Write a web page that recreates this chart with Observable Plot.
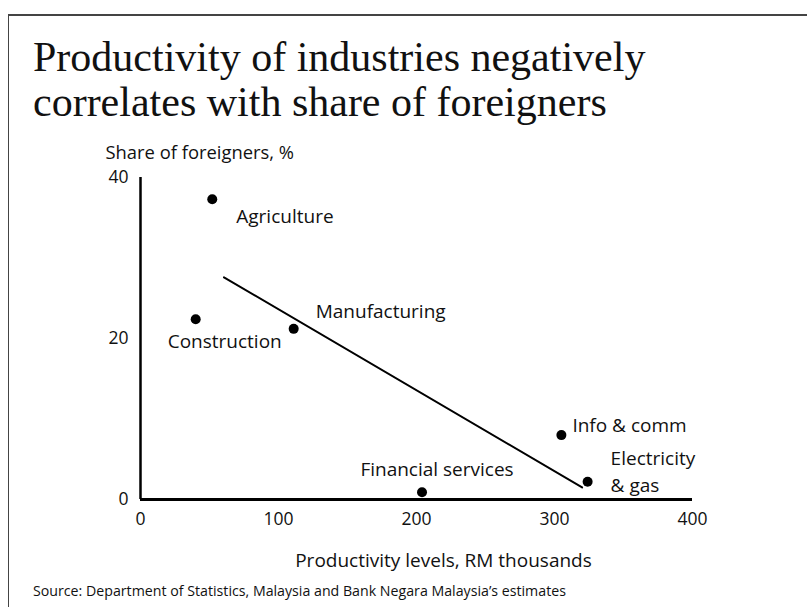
<!DOCTYPE html>
<html>
<head>
<meta charset="utf-8">
<script src="https://cdn.jsdelivr.net/npm/d3@7"></script>
<script src="https://cdn.jsdelivr.net/npm/@observablehq/plot@0.6"></script>
<style>
  html, body { margin: 0; padding: 0; background: #fff; }
  body { width: 807px; height: 607px; position: relative; overflow: hidden; }
  #frame { position: absolute; left: 8px; top: 14px; width: 799px; height: 593px;
           border-top: 2px solid #444; border-left: 1.5px solid #444; box-sizing: border-box; }
  #title { position: absolute; left: 33px; top: 35px; font-family: "Liberation Serif", serif;
           font-size: 42px; line-height: 45px; color: #111; white-space: nowrap; }
  #chart { position: absolute; left: 0; top: 140px; }
  #source { position: absolute; left: 33px; top: 581px; font-family: "Open Sans", sans-serif;
            font-size: 14.2px; line-height: 20px; color: #111; white-space: nowrap; }
</style>
</head>
<body>
<div id="frame"></div>
<div id="title">Productivity of industries negatively<br>correlates with share of foreigners</div>
<div id="chart"></div>
<div id="source">Source: Department of Statistics, Malaysia and Bank Negara Malaysia’s estimates</div>
<script>
// Data
const industries = ["Agriculture", "Construction", "Manufacturing", "Info & comm", "Electricity\n& gas", "Financial services"];
const productivity = [52, 40, 111, 305, 324, 204];       // RM thousands
const foreignShare = [37.3, 22.4, 21.2, 8.0, 2.2, 0.9];  // %
const trendX = [60.5, 320];
const trendY = [27.6, 1.5];
const xTicks = [0, 100, 200, 300, 400];
const yTicks = [0, 20, 40];
const xLabel = "Productivity levels, RM thousands";
const yLabel = "Share of foreigners, %";

const points = industries.map((name, i) => ({name, x: productivity[i], y: foreignShare[i]}));
const trend = trendX.map((x, i) => ({x, y: trendY[i]}));

// label placement styles (offsets from each dot)
const labelStyle = {
  "Agriculture": {dx: 24, dy: 15, textAnchor: "start"},
  "Construction": {dx: -28, dy: 20, textAnchor: "start"},
  "Manufacturing": {dx: 22, dy: -19, textAnchor: "start"},
  "Info & comm": {dx: 11, dy: -12, textAnchor: "start"},
  "Electricity\n& gas": {dx: 23, dy: -12, textAnchor: "start"},
  "Financial services": {dx: 15, dy: -25, textAnchor: "middle"}
};

const font = "Open Sans, sans-serif";
const labelMarks = points.map(p => Plot.text([p], {
  x: "x", y: "y", text: "name", fontSize: 19, fill: "#111",
  lineHeight: 1.42, ...labelStyle[p.name]
}));

const chart = Plot.plot({
  width: 807,
  height: 440,
  marginLeft: 140,
  marginRight: 115,
  marginTop: 37,
  marginBottom: 81,
  style: {fontFamily: font, fontSize: "17.5px", color: "#111", background: "transparent", overflow: "visible"},
  x: {domain: [0, 400], ticks: xTicks},
  y: {domain: [0, 40], ticks: yTicks},
  marks: [
    Plot.axisX({ticks: xTicks, tickSize: 0, tickPadding: 13, label: null, fontSize: 17.5}),
    Plot.axisY({ticks: yTicks, tickSize: 0, tickPadding: 12, label: null, fontSize: 17.5}),
    Plot.ruleX([0], {stroke: "#000", strokeWidth: 2.5}),
    Plot.ruleY([0], {stroke: "#000", strokeWidth: 3}),
    Plot.line(trend, {x: "x", y: "y", stroke: "#000", strokeWidth: 2}),
    Plot.dot(points, {x: "x", y: "y", r: 5, fill: "#000"}),
    ...labelMarks,
    Plot.text([yLabel], {frameAnchor: "top-left", text: d => d, dx: -35, dy: -32, fontSize: 18.4, textAnchor: "start"}),
    Plot.text([xLabel], {frameAnchor: "bottom", text: d => d, dx: 27, dy: 67, fontSize: 19})
  ]
});
document.getElementById("chart").appendChild(chart);
</script>
</body>
</html>
